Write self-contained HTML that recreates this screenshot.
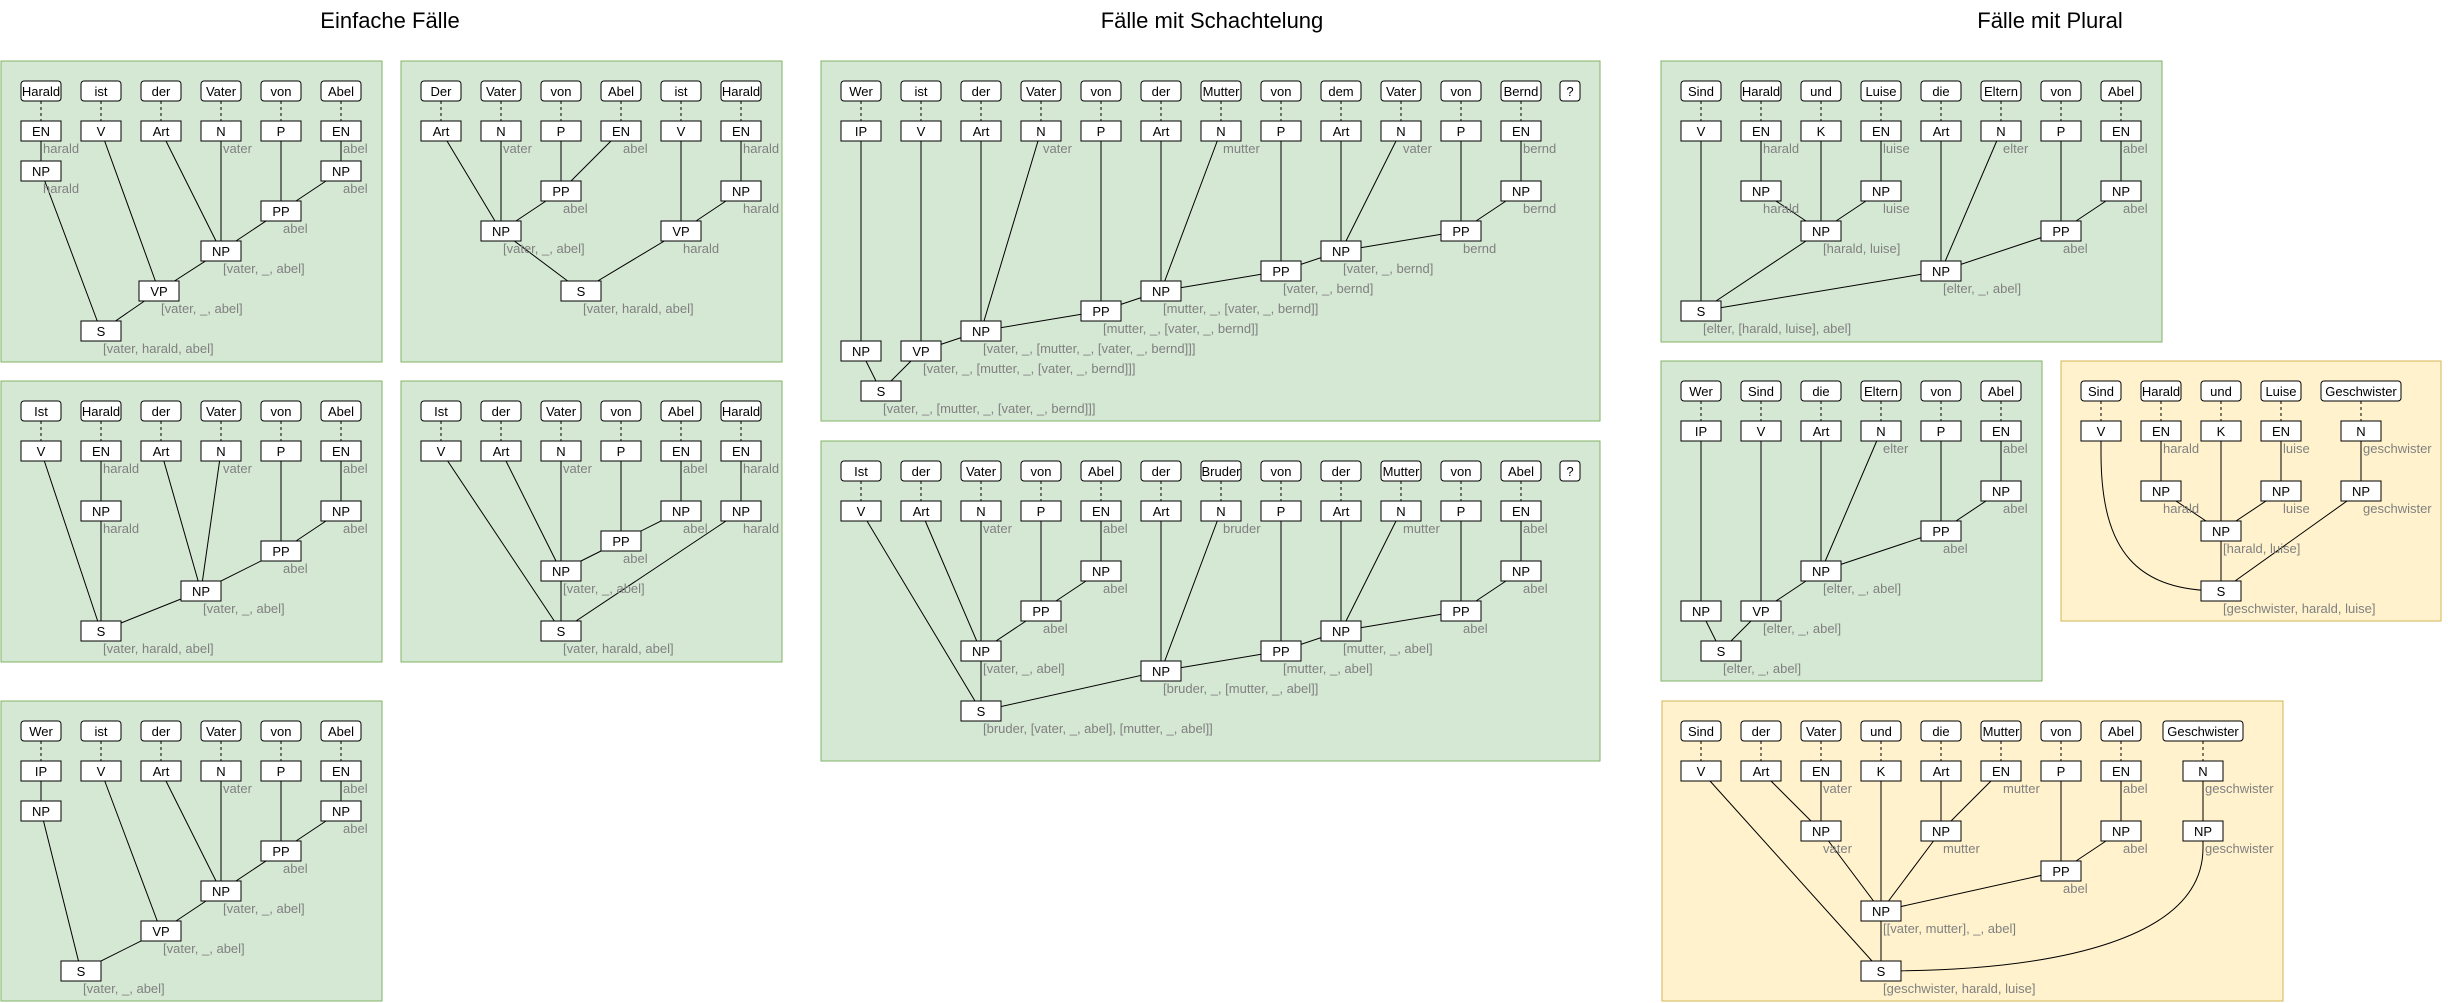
<!DOCTYPE html>
<html><head><meta charset="utf-8"><style>
html,body{margin:0;padding:0;background:#fff;}
svg{display:block}
rect{fill:#fff;stroke:#000;stroke-width:1;width:40px;height:20px}
rect.w{rx:3px;ry:3px}
rect.gp{fill:#d5e8d4;stroke:#82b366}
rect.yp{fill:#fff2cc;stroke:#d6b656}
path.e{fill:none;stroke:#000;stroke-width:1}
path.d{fill:none;stroke:#000;stroke-width:1;stroke-dasharray:3,3}
text{font-family:"Liberation Sans",Arial,sans-serif;font-size:13px}
text.t{text-anchor:middle;fill:#000}
text.g{fill:#808080}
text.h{text-anchor:middle;font-size:22px;fill:#000}
</style></head><body>
<svg width="2448" height="1003" viewBox="0 0 2448 1003" xmlns="http://www.w3.org/2000/svg">
<text class="h" x="390" y="28">Einfache Fälle</text>
<text class="h" x="1212" y="28">Fälle mit Schachtelung</text>
<text class="h" x="2050" y="28">Fälle mit Plural</text>

<!-- P1 -->
<g transform="translate(0,60)">
<rect class="gp" x="1" y="1" width="381" height="301" style="width:381px;height:301px"/>
<path class="d" d="M41 41V61M101 41V61M161 41V61M221 41V61M281 41V61M341 41V61"/>
<path class="e" d="M41 71L41 111M41 111L101 271M101 71L159 231M161 71L221 191M221 71L221 191M281 71L281 151M341 71L341 111M341 111L281 151M281 151L221 191M221 191L159 231M159 231L101 271"/>
<rect class="w" x="21" y="21"/><rect class="w" x="81" y="21"/><rect class="w" x="141" y="21"/><rect class="w" x="201" y="21"/><rect class="w" x="261" y="21"/><rect class="w" x="321" y="21"/>
<rect x="21" y="61"/><rect x="81" y="61"/><rect x="141" y="61"/><rect x="201" y="61"/><rect x="261" y="61"/><rect x="321" y="61"/>
<rect x="21" y="101"/><rect x="321" y="101"/><rect x="261" y="141"/><rect x="201" y="181"/><rect x="139" y="221"/><rect x="81" y="261"/>
<text class="t" x="41" y="36">Harald</text><text class="t" x="101" y="36">ist</text><text class="t" x="161" y="36">der</text><text class="t" x="221" y="36">Vater</text><text class="t" x="281" y="36">von</text><text class="t" x="341" y="36">Abel</text>
<text class="t" x="41" y="76">EN</text><text class="t" x="101" y="76">V</text><text class="t" x="161" y="76">Art</text><text class="t" x="221" y="76">N</text><text class="t" x="281" y="76">P</text><text class="t" x="341" y="76">EN</text>
<text class="t" x="41" y="116">NP</text><text class="t" x="341" y="116">NP</text><text class="t" x="281" y="156">PP</text><text class="t" x="221" y="196">NP</text><text class="t" x="159" y="236">VP</text><text class="t" x="101" y="276">S</text>
<text class="g" x="43" y="93">harald</text><text class="g" x="223" y="93">vater</text><text class="g" x="343" y="93">abel</text>
<text class="g" x="43" y="133">harald</text><text class="g" x="343" y="133">abel</text><text class="g" x="283" y="173">abel</text>
<text class="g" x="223" y="213">[vater, _, abel]</text><text class="g" x="161" y="253">[vater, _, abel]</text><text class="g" x="103" y="293">[vater, harald, abel]</text>
</g>

<!-- P2 -->
<g transform="translate(400,60)">
<rect class="gp" x="1" y="1" width="381" height="301" style="width:381px;height:301px"/>
<path class="d" d="M41 41V61M101 41V61M161 41V61M221 41V61M281 41V61M341 41V61"/>
<path class="e" d="M41 71L101 171M101 71L101 171M161 71L161 131M221 71L161 131M161 131L101 171M281 71L281 171M341 71L341 131M341 131L281 171M101 171L181 231M281 171L181 231"/>
<rect class="w" x="21" y="21"/><rect class="w" x="81" y="21"/><rect class="w" x="141" y="21"/><rect class="w" x="201" y="21"/><rect class="w" x="261" y="21"/><rect class="w" x="321" y="21"/>
<rect x="21" y="61"/><rect x="81" y="61"/><rect x="141" y="61"/><rect x="201" y="61"/><rect x="261" y="61"/><rect x="321" y="61"/>
<rect x="141" y="121"/><rect x="321" y="121"/><rect x="81" y="161"/><rect x="261" y="161"/><rect x="161" y="221"/>
<text class="t" x="41" y="36">Der</text><text class="t" x="101" y="36">Vater</text><text class="t" x="161" y="36">von</text><text class="t" x="221" y="36">Abel</text><text class="t" x="281" y="36">ist</text><text class="t" x="341" y="36">Harald</text>
<text class="t" x="41" y="76">Art</text><text class="t" x="101" y="76">N</text><text class="t" x="161" y="76">P</text><text class="t" x="221" y="76">EN</text><text class="t" x="281" y="76">V</text><text class="t" x="341" y="76">EN</text>
<text class="t" x="161" y="136">PP</text><text class="t" x="341" y="136">NP</text><text class="t" x="101" y="176">NP</text><text class="t" x="281" y="176">VP</text><text class="t" x="181" y="236">S</text>
<text class="g" x="103" y="93">vater</text><text class="g" x="223" y="93">abel</text><text class="g" x="343" y="93">harald</text>
<text class="g" x="163" y="153">abel</text><text class="g" x="343" y="153">harald</text>
<text class="g" x="103" y="193">[vater, _, abel]</text><text class="g" x="283" y="193">harald</text><text class="g" x="183" y="253">[vater, harald, abel]</text>
</g>

<!-- P3 -->
<g transform="translate(0,380)">
<rect class="gp" x="1" y="1" width="381" height="281" style="width:381px;height:281px"/>
<path class="d" d="M41 41V61M101 41V61M161 41V61M221 41V61M281 41V61M341 41V61"/>
<path class="e" d="M41 71L101 251M101 71L101 131M101 131L101 251M161 71L201 211M221 71L201 211M281 71L281 171M341 71L341 131M341 131L281 171M281 171L201 211M201 211L101 251"/>
<rect class="w" x="21" y="21"/><rect class="w" x="81" y="21"/><rect class="w" x="141" y="21"/><rect class="w" x="201" y="21"/><rect class="w" x="261" y="21"/><rect class="w" x="321" y="21"/>
<rect x="21" y="61"/><rect x="81" y="61"/><rect x="141" y="61"/><rect x="201" y="61"/><rect x="261" y="61"/><rect x="321" y="61"/>
<rect x="81" y="121"/><rect x="321" y="121"/><rect x="261" y="161"/><rect x="181" y="201"/><rect x="81" y="241"/>
<text class="t" x="41" y="36">Ist</text><text class="t" x="101" y="36">Harald</text><text class="t" x="161" y="36">der</text><text class="t" x="221" y="36">Vater</text><text class="t" x="281" y="36">von</text><text class="t" x="341" y="36">Abel</text>
<text class="t" x="41" y="76">V</text><text class="t" x="101" y="76">EN</text><text class="t" x="161" y="76">Art</text><text class="t" x="221" y="76">N</text><text class="t" x="281" y="76">P</text><text class="t" x="341" y="76">EN</text>
<text class="t" x="101" y="136">NP</text><text class="t" x="341" y="136">NP</text><text class="t" x="281" y="176">PP</text><text class="t" x="201" y="216">NP</text><text class="t" x="101" y="256">S</text>
<text class="g" x="103" y="93">harald</text><text class="g" x="223" y="93">vater</text><text class="g" x="343" y="93">abel</text>
<text class="g" x="103" y="153">harald</text><text class="g" x="343" y="153">abel</text><text class="g" x="283" y="193">abel</text>
<text class="g" x="203" y="233">[vater, _, abel]</text><text class="g" x="103" y="273">[vater, harald, abel]</text>
</g>

<!-- P4 -->
<g transform="translate(400,380)">
<rect class="gp" x="1" y="1" width="381" height="281" style="width:381px;height:281px"/>
<path class="d" d="M41 41V61M101 41V61M161 41V61M221 41V61M281 41V61M341 41V61"/>
<path class="e" d="M41 71L161 251M101 71L161 191M161 71L161 191M221 71L221 161M281 71L281 131M281 131L221 161M221 161L161 191M161 191L161 251M341 71L341 131M341 131L161 251"/>
<rect class="w" x="21" y="21"/><rect class="w" x="81" y="21"/><rect class="w" x="141" y="21"/><rect class="w" x="201" y="21"/><rect class="w" x="261" y="21"/><rect class="w" x="321" y="21"/>
<rect x="21" y="61"/><rect x="81" y="61"/><rect x="141" y="61"/><rect x="201" y="61"/><rect x="261" y="61"/><rect x="321" y="61"/>
<rect x="261" y="121"/><rect x="321" y="121"/><rect x="201" y="151"/><rect x="141" y="181"/><rect x="141" y="241"/>
<text class="t" x="41" y="36">Ist</text><text class="t" x="101" y="36">der</text><text class="t" x="161" y="36">Vater</text><text class="t" x="221" y="36">von</text><text class="t" x="281" y="36">Abel</text><text class="t" x="341" y="36">Harald</text>
<text class="t" x="41" y="76">V</text><text class="t" x="101" y="76">Art</text><text class="t" x="161" y="76">N</text><text class="t" x="221" y="76">P</text><text class="t" x="281" y="76">EN</text><text class="t" x="341" y="76">EN</text>
<text class="t" x="281" y="136">NP</text><text class="t" x="341" y="136">NP</text><text class="t" x="221" y="166">PP</text><text class="t" x="161" y="196">NP</text><text class="t" x="161" y="256">S</text>
<text class="g" x="163" y="93">vater</text><text class="g" x="283" y="93">abel</text><text class="g" x="343" y="93">harald</text>
<text class="g" x="283" y="153">abel</text><text class="g" x="343" y="153">harald</text><text class="g" x="223" y="183">abel</text>
<text class="g" x="163" y="213">[vater, _, abel]</text><text class="g" x="163" y="273">[vater, harald, abel]</text>
</g>

<!-- P5 -->
<g transform="translate(0,700)">
<rect class="gp" x="1" y="1" width="381" height="300" style="width:381px;height:300px"/>
<path class="d" d="M41 41V61M101 41V61M161 41V61M221 41V61M281 41V61M341 41V61"/>
<path class="e" d="M41 71L41 111M41 111L81 271M101 71L161 231M161 71L221 191M221 71L221 191M281 71L281 151M341 71L341 111M341 111L281 151M281 151L221 191M221 191L161 231M161 231L81 271"/>
<rect class="w" x="21" y="21"/><rect class="w" x="81" y="21"/><rect class="w" x="141" y="21"/><rect class="w" x="201" y="21"/><rect class="w" x="261" y="21"/><rect class="w" x="321" y="21"/>
<rect x="21" y="61"/><rect x="81" y="61"/><rect x="141" y="61"/><rect x="201" y="61"/><rect x="261" y="61"/><rect x="321" y="61"/>
<rect x="21" y="101"/><rect x="321" y="101"/><rect x="261" y="141"/><rect x="201" y="181"/><rect x="141" y="221"/><rect x="61" y="261"/>
<text class="t" x="41" y="36">Wer</text><text class="t" x="101" y="36">ist</text><text class="t" x="161" y="36">der</text><text class="t" x="221" y="36">Vater</text><text class="t" x="281" y="36">von</text><text class="t" x="341" y="36">Abel</text>
<text class="t" x="41" y="76">IP</text><text class="t" x="101" y="76">V</text><text class="t" x="161" y="76">Art</text><text class="t" x="221" y="76">N</text><text class="t" x="281" y="76">P</text><text class="t" x="341" y="76">EN</text>
<text class="t" x="41" y="116">NP</text><text class="t" x="341" y="116">NP</text><text class="t" x="281" y="156">PP</text><text class="t" x="221" y="196">NP</text><text class="t" x="161" y="236">VP</text><text class="t" x="81" y="276">S</text>
<text class="g" x="223" y="93">vater</text><text class="g" x="343" y="93">abel</text>
<text class="g" x="343" y="133">abel</text><text class="g" x="283" y="173">abel</text>
<text class="g" x="223" y="213">[vater, _, abel]</text><text class="g" x="163" y="253">[vater, _, abel]</text><text class="g" x="83" y="293">[vater, _, abel]</text>
</g>

<!-- P6 -->
<g transform="translate(820,60)">
<rect class="gp" x="1" y="1" width="779" height="360" style="width:779px;height:360px"/>
<path class="d" d="M41 41V61M101 41V61M161 41V61M221 41V61M281 41V61M341 41V61M401 41V61M461 41V61M521 41V61M581 41V61M641 41V61M701 41V61"/>
<path class="e" d="M41 71L41 291M41 291L61 331M101 71L101 291M101 291L61 331M161 71L161 271M221 71L161 271M161 271L101 291M281 71L281 251M281 251L161 271M341 71L341 231M401 71L341 231M341 231L281 251M461 71L461 211M461 211L341 231M521 71L521 191M581 71L521 191M521 191L461 211M641 71L641 171M641 171L521 191M701 71L701 131M701 131L641 171"/>
<rect class="w" x="21" y="21"/><rect class="w" x="81" y="21"/><rect class="w" x="141" y="21"/><rect class="w" x="201" y="21"/><rect class="w" x="261" y="21"/><rect class="w" x="321" y="21"/><rect class="w" x="381" y="21"/><rect class="w" x="441" y="21"/><rect class="w" x="501" y="21"/><rect class="w" x="561" y="21"/><rect class="w" x="621" y="21"/><rect class="w" x="681" y="21"/><rect class="w" x="740" y="21" width="20" style="width:20px"/>
<rect x="21" y="61"/><rect x="81" y="61"/><rect x="141" y="61"/><rect x="201" y="61"/><rect x="261" y="61"/><rect x="321" y="61"/><rect x="381" y="61"/><rect x="441" y="61"/><rect x="501" y="61"/><rect x="561" y="61"/><rect x="621" y="61"/><rect x="681" y="61"/>
<rect x="681" y="121"/><rect x="621" y="161"/><rect x="501" y="181"/><rect x="441" y="201"/><rect x="321" y="221"/><rect x="261" y="241"/><rect x="141" y="261"/><rect x="21" y="281"/><rect x="81" y="281"/><rect x="41" y="321"/>
<text class="t" x="41" y="36">Wer</text><text class="t" x="101" y="36">ist</text><text class="t" x="161" y="36">der</text><text class="t" x="221" y="36">Vater</text><text class="t" x="281" y="36">von</text><text class="t" x="341" y="36">der</text><text class="t" x="401" y="36">Mutter</text><text class="t" x="461" y="36">von</text><text class="t" x="521" y="36">dem</text><text class="t" x="581" y="36">Vater</text><text class="t" x="641" y="36">von</text><text class="t" x="701" y="36">Bernd</text><text class="t" x="750" y="36">?</text>
<text class="t" x="41" y="76">IP</text><text class="t" x="101" y="76">V</text><text class="t" x="161" y="76">Art</text><text class="t" x="221" y="76">N</text><text class="t" x="281" y="76">P</text><text class="t" x="341" y="76">Art</text><text class="t" x="401" y="76">N</text><text class="t" x="461" y="76">P</text><text class="t" x="521" y="76">Art</text><text class="t" x="581" y="76">N</text><text class="t" x="641" y="76">P</text><text class="t" x="701" y="76">EN</text>
<text class="t" x="701" y="136">NP</text><text class="t" x="641" y="176">PP</text><text class="t" x="521" y="196">NP</text><text class="t" x="461" y="216">PP</text><text class="t" x="341" y="236">NP</text><text class="t" x="281" y="256">PP</text><text class="t" x="161" y="276">NP</text><text class="t" x="41" y="296">NP</text><text class="t" x="101" y="296">VP</text><text class="t" x="61" y="336">S</text>
<text class="g" x="223" y="93">vater</text><text class="g" x="403" y="93">mutter</text><text class="g" x="583" y="93">vater</text><text class="g" x="703" y="93">bernd</text>
<text class="g" x="703" y="153">bernd</text><text class="g" x="643" y="193">bernd</text>
<text class="g" x="523" y="213">[vater, _, bernd]</text><text class="g" x="463" y="233">[vater, _, bernd]</text>
<text class="g" x="343" y="253">[mutter, _, [vater, _, bernd]]</text><text class="g" x="283" y="273">[mutter, _, [vater, _, bernd]]</text>
<text class="g" x="163" y="293">[vater, _, [mutter, _, [vater, _, bernd]]]</text><text class="g" x="103" y="313">[vater, _, [mutter, _, [vater, _, bernd]]]</text><text class="g" x="63" y="353">[vater, _, [mutter, _, [vater, _, bernd]]]</text>
</g>

<!-- P7 -->
<g transform="translate(820,438)">
<rect class="gp" x="1" y="3" width="779" height="320" style="width:779px;height:320px"/>
<path class="d" d="M41 43V63M101 43V63M161 43V63M221 43V63M281 43V63M341 43V63M401 43V63M461 43V63M521 43V63M581 43V63M641 43V63M701 43V63"/>
<path class="e" d="M41 73L161 273M101 73L161 213M161 73L161 213M221 73L221 173M281 73L281 133M281 133L221 173M221 173L161 213M161 213L161 273M341 73L341 233M401 73L341 233M341 233L161 273M461 73L461 213M461 213L341 233M521 73L521 193M581 73L521 193M521 193L461 213M641 73L641 173M701 73L701 133M701 133L641 173M641 173L521 193"/>
<rect class="w" x="21" y="23"/><rect class="w" x="81" y="23"/><rect class="w" x="141" y="23"/><rect class="w" x="201" y="23"/><rect class="w" x="261" y="23"/><rect class="w" x="321" y="23"/><rect class="w" x="381" y="23"/><rect class="w" x="441" y="23"/><rect class="w" x="501" y="23"/><rect class="w" x="561" y="23"/><rect class="w" x="621" y="23"/><rect class="w" x="681" y="23"/><rect class="w" x="740" y="23" width="20" style="width:20px"/>
<rect x="21" y="63"/><rect x="81" y="63"/><rect x="141" y="63"/><rect x="201" y="63"/><rect x="261" y="63"/><rect x="321" y="63"/><rect x="381" y="63"/><rect x="441" y="63"/><rect x="501" y="63"/><rect x="561" y="63"/><rect x="621" y="63"/><rect x="681" y="63"/>
<rect x="261" y="123"/><rect x="201" y="163"/><rect x="141" y="203"/><rect x="141" y="263"/><rect x="321" y="223"/><rect x="441" y="203"/><rect x="501" y="183"/><rect x="621" y="163"/><rect x="681" y="123"/>
<text class="t" x="41" y="38">Ist</text><text class="t" x="101" y="38">der</text><text class="t" x="161" y="38">Vater</text><text class="t" x="221" y="38">von</text><text class="t" x="281" y="38">Abel</text><text class="t" x="341" y="38">der</text><text class="t" x="401" y="38">Bruder</text><text class="t" x="461" y="38">von</text><text class="t" x="521" y="38">der</text><text class="t" x="581" y="38">Mutter</text><text class="t" x="641" y="38">von</text><text class="t" x="701" y="38">Abel</text><text class="t" x="750" y="38">?</text>
<text class="t" x="41" y="78">V</text><text class="t" x="101" y="78">Art</text><text class="t" x="161" y="78">N</text><text class="t" x="221" y="78">P</text><text class="t" x="281" y="78">EN</text><text class="t" x="341" y="78">Art</text><text class="t" x="401" y="78">N</text><text class="t" x="461" y="78">P</text><text class="t" x="521" y="78">Art</text><text class="t" x="581" y="78">N</text><text class="t" x="641" y="78">P</text><text class="t" x="701" y="78">EN</text>
<text class="t" x="281" y="138">NP</text><text class="t" x="221" y="178">PP</text><text class="t" x="161" y="218">NP</text><text class="t" x="161" y="278">S</text><text class="t" x="341" y="238">NP</text><text class="t" x="461" y="218">PP</text><text class="t" x="521" y="198">NP</text><text class="t" x="641" y="178">PP</text><text class="t" x="701" y="138">NP</text>
<text class="g" x="163" y="95">vater</text><text class="g" x="283" y="95">abel</text><text class="g" x="403" y="95">bruder</text><text class="g" x="583" y="95">mutter</text><text class="g" x="703" y="95">abel</text>
<text class="g" x="283" y="155">abel</text><text class="g" x="223" y="195">abel</text><text class="g" x="163" y="235">[vater, _, abel]</text>
<text class="g" x="163" y="295">[bruder, [vater, _, abel], [mutter, _, abel]]</text><text class="g" x="343" y="255">[bruder, _, [mutter, _, abel]]</text>
<text class="g" x="463" y="235">[mutter, _, abel]</text><text class="g" x="523" y="215">[mutter, _, abel]</text><text class="g" x="643" y="195">abel</text><text class="g" x="703" y="155">abel</text>
</g>

<!-- P8 -->
<g transform="translate(1660,60)">
<rect class="gp" x="1" y="1" width="501" height="281" style="width:501px;height:281px"/>
<path class="d" d="M41 41V61M101 41V61M161 41V61M221 41V61M281 41V61M341 41V61M401 41V61M461 41V61"/>
<path class="e" d="M41 71L41 251M101 71L101 131M101 131L161 171M161 71L161 171M221 71L221 131M221 131L161 171M161 171L41 251M281 71L281 211M341 71L281 211M401 71L401 171M461 71L461 131M461 131L401 171M401 171L281 211M281 211L41 251"/>
<rect class="w" x="21" y="21"/><rect class="w" x="81" y="21"/><rect class="w" x="141" y="21"/><rect class="w" x="201" y="21"/><rect class="w" x="261" y="21"/><rect class="w" x="321" y="21"/><rect class="w" x="381" y="21"/><rect class="w" x="441" y="21"/>
<rect x="21" y="61"/><rect x="81" y="61"/><rect x="141" y="61"/><rect x="201" y="61"/><rect x="261" y="61"/><rect x="321" y="61"/><rect x="381" y="61"/><rect x="441" y="61"/>
<rect x="81" y="121"/><rect x="201" y="121"/><rect x="141" y="161"/><rect x="441" y="121"/><rect x="381" y="161"/><rect x="261" y="201"/><rect x="21" y="241"/>
<text class="t" x="41" y="36">Sind</text><text class="t" x="101" y="36">Harald</text><text class="t" x="161" y="36">und</text><text class="t" x="221" y="36">Luise</text><text class="t" x="281" y="36">die</text><text class="t" x="341" y="36">Eltern</text><text class="t" x="401" y="36">von</text><text class="t" x="461" y="36">Abel</text>
<text class="t" x="41" y="76">V</text><text class="t" x="101" y="76">EN</text><text class="t" x="161" y="76">K</text><text class="t" x="221" y="76">EN</text><text class="t" x="281" y="76">Art</text><text class="t" x="341" y="76">N</text><text class="t" x="401" y="76">P</text><text class="t" x="461" y="76">EN</text>
<text class="t" x="101" y="136">NP</text><text class="t" x="221" y="136">NP</text><text class="t" x="161" y="176">NP</text><text class="t" x="461" y="136">NP</text><text class="t" x="401" y="176">PP</text><text class="t" x="281" y="216">NP</text><text class="t" x="41" y="256">S</text>
<text class="g" x="103" y="93">harald</text><text class="g" x="223" y="93">luise</text><text class="g" x="343" y="93">elter</text><text class="g" x="463" y="93">abel</text>
<text class="g" x="103" y="153">harald</text><text class="g" x="223" y="153">luise</text><text class="g" x="463" y="153">abel</text>
<text class="g" x="163" y="193">[harald, luise]</text><text class="g" x="403" y="193">abel</text>
<text class="g" x="283" y="233">[elter, _, abel]</text><text class="g" x="43" y="273">[elter, [harald, luise], abel]</text>
</g>

<!-- P9 -->
<g transform="translate(1660,358)">
<rect class="gp" x="1" y="3" width="381" height="320" style="width:381px;height:320px"/>
<path class="d" d="M41 43V63M101 43V63M161 43V63M221 43V63M281 43V63M341 43V63"/>
<path class="e" d="M41 73L41 253M41 253L61 293M101 73L101 253M101 253L61 293M161 73L161 213M221 73L161 213M161 213L101 253M281 73L281 173M341 73L341 133M341 133L281 173M281 173L161 213"/>
<rect class="w" x="21" y="23"/><rect class="w" x="81" y="23"/><rect class="w" x="141" y="23"/><rect class="w" x="201" y="23"/><rect class="w" x="261" y="23"/><rect class="w" x="321" y="23"/>
<rect x="21" y="63"/><rect x="81" y="63"/><rect x="141" y="63"/><rect x="201" y="63"/><rect x="261" y="63"/><rect x="321" y="63"/>
<rect x="321" y="123"/><rect x="261" y="163"/><rect x="141" y="203"/><rect x="21" y="243"/><rect x="81" y="243"/><rect x="41" y="283"/>
<text class="t" x="41" y="38">Wer</text><text class="t" x="101" y="38">Sind</text><text class="t" x="161" y="38">die</text><text class="t" x="221" y="38">Eltern</text><text class="t" x="281" y="38">von</text><text class="t" x="341" y="38">Abel</text>
<text class="t" x="41" y="78">IP</text><text class="t" x="101" y="78">V</text><text class="t" x="161" y="78">Art</text><text class="t" x="221" y="78">N</text><text class="t" x="281" y="78">P</text><text class="t" x="341" y="78">EN</text>
<text class="t" x="341" y="138">NP</text><text class="t" x="281" y="178">PP</text><text class="t" x="161" y="218">NP</text><text class="t" x="41" y="258">NP</text><text class="t" x="101" y="258">VP</text><text class="t" x="61" y="298">S</text>
<text class="g" x="223" y="95">elter</text><text class="g" x="343" y="95">abel</text><text class="g" x="343" y="155">abel</text><text class="g" x="283" y="195">abel</text>
<text class="g" x="163" y="235">[elter, _, abel]</text><text class="g" x="103" y="275">[elter, _, abel]</text><text class="g" x="63" y="315">[elter, _, abel]</text>
</g>

<!-- P10 -->
<g transform="translate(2058,358)">
<rect class="yp" x="3" y="3" width="380" height="260" style="width:380px;height:260px"/>
<path class="d" d="M43 43V63M103 43V63M163 43V63M223 43V63M303 43V63"/>
<path class="e" d="M43 73V95C43 195 80 233 163 233M103 73L103 133M103 133L163 173M163 73L163 173M223 73L223 133M223 133L163 173M163 173L163 233M303 73L303 133M303 133L163 233"/>
<rect class="w" x="23" y="23"/><rect class="w" x="83" y="23"/><rect class="w" x="143" y="23"/><rect class="w" x="203" y="23"/><rect class="w" x="263" y="23" width="80" style="width:80px"/>
<rect x="23" y="63"/><rect x="83" y="63"/><rect x="143" y="63"/><rect x="203" y="63"/><rect x="283" y="63"/>
<rect x="83" y="123"/><rect x="203" y="123"/><rect x="283" y="123"/><rect x="143" y="163"/><rect x="143" y="223"/>
<text class="t" x="43" y="38">Sind</text><text class="t" x="103" y="38">Harald</text><text class="t" x="163" y="38">und</text><text class="t" x="223" y="38">Luise</text><text class="t" x="303" y="38">Geschwister</text>
<text class="t" x="43" y="78">V</text><text class="t" x="103" y="78">EN</text><text class="t" x="163" y="78">K</text><text class="t" x="223" y="78">EN</text><text class="t" x="303" y="78">N</text>
<text class="t" x="103" y="138">NP</text><text class="t" x="223" y="138">NP</text><text class="t" x="303" y="138">NP</text><text class="t" x="163" y="178">NP</text><text class="t" x="163" y="238">S</text>
<text class="g" x="105" y="95">harald</text><text class="g" x="225" y="95">luise</text><text class="g" x="305" y="95">geschwister</text>
<text class="g" x="105" y="155">harald</text><text class="g" x="225" y="155">luise</text><text class="g" x="305" y="155">geschwister</text>
<text class="g" x="165" y="195">[harald, luise]</text><text class="g" x="165" y="255">[geschwister, harald, luise]</text>
</g>

<!-- P11 -->
<g transform="translate(1660,698)">
<rect class="yp" x="2" y="3" width="621" height="300" style="width:621px;height:300px"/>
<path class="d" d="M41 43V63M101 43V63M161 43V63M221 43V63M281 43V63M341 43V63M401 43V63M461 43V63M543 43V63"/>
<path class="e" d="M41 73L221 273M101 73L161 133M161 73L161 133M161 133L221 213M221 73L221 213M281 73L281 133M341 73L281 133M281 133L221 213M401 73L401 173M461 73L461 133M461 133L401 173M401 173L221 213M221 213L221 273M543 73L543 133M543 133V150C543 240 400 273 221 273"/>
<rect class="w" x="21" y="23"/><rect class="w" x="81" y="23"/><rect class="w" x="141" y="23"/><rect class="w" x="201" y="23"/><rect class="w" x="261" y="23"/><rect class="w" x="321" y="23"/><rect class="w" x="381" y="23"/><rect class="w" x="441" y="23"/><rect class="w" x="503" y="23" width="80" style="width:80px"/>
<rect x="21" y="63"/><rect x="81" y="63"/><rect x="141" y="63"/><rect x="201" y="63"/><rect x="261" y="63"/><rect x="321" y="63"/><rect x="381" y="63"/><rect x="441" y="63"/><rect x="523" y="63"/>
<rect x="141" y="123"/><rect x="261" y="123"/><rect x="441" y="123"/><rect x="523" y="123"/><rect x="381" y="163"/><rect x="201" y="203"/><rect x="201" y="263"/>
<text class="t" x="41" y="38">Sind</text><text class="t" x="101" y="38">der</text><text class="t" x="161" y="38">Vater</text><text class="t" x="221" y="38">und</text><text class="t" x="281" y="38">die</text><text class="t" x="341" y="38">Mutter</text><text class="t" x="401" y="38">von</text><text class="t" x="461" y="38">Abel</text><text class="t" x="543" y="38">Geschwister</text>
<text class="t" x="41" y="78">V</text><text class="t" x="101" y="78">Art</text><text class="t" x="161" y="78">EN</text><text class="t" x="221" y="78">K</text><text class="t" x="281" y="78">Art</text><text class="t" x="341" y="78">EN</text><text class="t" x="401" y="78">P</text><text class="t" x="461" y="78">EN</text><text class="t" x="543" y="78">N</text>
<text class="t" x="161" y="138">NP</text><text class="t" x="281" y="138">NP</text><text class="t" x="461" y="138">NP</text><text class="t" x="543" y="138">NP</text><text class="t" x="401" y="178">PP</text><text class="t" x="221" y="218">NP</text><text class="t" x="221" y="278">S</text>
<text class="g" x="163" y="95">vater</text><text class="g" x="343" y="95">mutter</text><text class="g" x="463" y="95">abel</text><text class="g" x="545" y="95">geschwister</text>
<text class="g" x="163" y="155">vater</text><text class="g" x="283" y="155">mutter</text><text class="g" x="463" y="155">abel</text><text class="g" x="545" y="155">geschwister</text>
<text class="g" x="403" y="195">abel</text><text class="g" x="223" y="235">[[vater, mutter], _, abel]</text><text class="g" x="223" y="295">[geschwister, harald, luise]</text>
</g>
</svg>
</body></html>
